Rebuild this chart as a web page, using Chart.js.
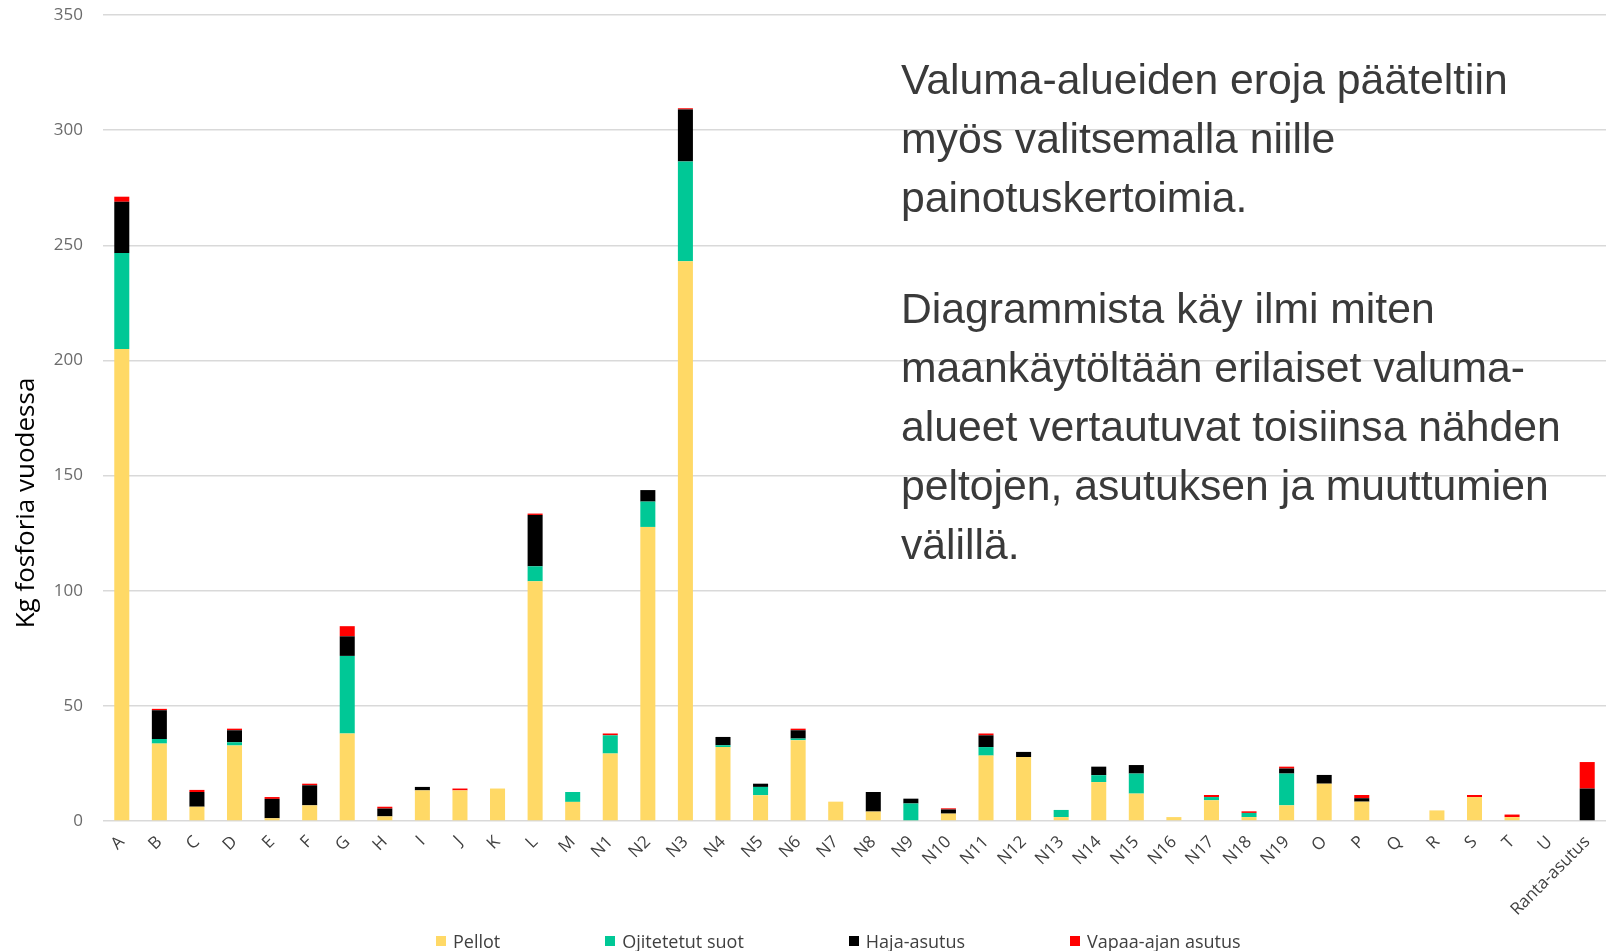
<!DOCTYPE html>
<html lang="fi">
<head>
<meta charset="utf-8">
<title>Kg fosforia vuodessa</title>
<script src="https://cdn.jsdelivr.net/npm/chart.js@4.4.1/dist/chart.umd.min.js"></script>
<style>
    body { margin: 0; background: #fff; }
    .wrap { position: relative; width: 1610px; height: 951px; overflow: hidden; }
    .note {
        position: absolute; left: 901px; top: 50px; width: 705px;
        font-family: "Liberation Sans", Arial, sans-serif; font-size: 42.7px;
        line-height: 59px; color: #3a3a3a;
    }
    .note p { margin: 0; }
    .note p + p { margin-top: 52px; }
    .legend {
        position: absolute; left: 436px; top: 931px; height: 20px;
        display: flex; align-items: center;
        font-family: "Open Sans", sans-serif; font-size: 18px; color: #404040;
    }
    .legend span.item { display: flex; align-items: center; margin-right: 105px; }
    .legend span.box { width: 10px; height: 10px; margin-right: 7px; }
</style>
</head>
<body>
<div class="wrap">
    <canvas id="chart" width="1610" height="951"></canvas>
    <div class="note">
        <p>Valuma-alueiden eroja pääteltiin<br>myös valitsemalla niille<br>painotuskertoimia.</p>
        <p>Diagrammista käy ilmi miten<br>maankäytöltään erilaiset valuma-<br>alueet vertautuvat toisiinsa nähden<br>peltojen, asutuksen ja muuttumien<br>välillä.</p>
    </div>
    <div class="legend" id="legend"></div>
</div>
<script>
// Valuma-alueet
const categories = ['A', 'B', 'C', 'D', 'E', 'F', 'G', 'H', 'I', 'J', 'K', 'L', 'M',
    'N1', 'N2', 'N3', 'N4', 'N5', 'N6', 'N7', 'N8', 'N9', 'N10', 'N11', 'N12', 'N13',
    'N14', 'N15', 'N16', 'N17', 'N18', 'N19', 'O', 'P', 'Q', 'R', 'S', 'T', 'U', 'Ranta-asutus'];

// kg fosforia vuodessa, luettu kuvasta
const pellot = [205, 33.6, 6.2, 32.8, 1.2, 6.8, 38, 2.0, 13.3, 13.3, 14.1, 104.1, 8.3,
    29.3, 127.7, 243.1, 32.1, 11.2, 35.1, 8.4, 4.1, 0.3, 3.2, 28.4, 27.8, 1.7,
    16.9, 11.9, 1.7, 9.0, 1.7, 6.8, 16.2, 8.4, 0, 4.6, 10.4, 1.7, 0, 0];
const ojitetutSuot = [41.6, 2.0, 0, 1.4, 0, 0, 33.7, 0, 0, 0, 0, 6.5, 4.3,
    7.9, 11, 43.3, 0.8, 3.6, 0.7, 0, 0, 7.3, 0, 3.7, 0, 3.1,
    3.0, 8.7, 0, 1.4, 1.8, 13.8, 0, 0, 0, 0, 0, 0, 0, 0];
const hajaAsutus = [22.3, 12.5, 6.4, 5.2, 8.4, 8.7, 8.5, 3.4, 1.5, 0, 0, 22.3, 0,
    0, 5, 22.6, 3.6, 1.4, 3.6, 0, 8.5, 2.1, 1.8, 5.1, 2.2, 0,
    3.7, 3.7, 0, 0, 0, 2.2, 3.8, 1.5, 0, 0, 0, 0, 0, 14.1];
const vapaaAjanAsutus = [2.2, 0.6, 0.9, 0.7, 0.8, 0.7, 4.4, 0.8, 0, 0.8, 0, 0.6, 0,
    0.8, 0, 0.5, 0, 0, 0.7, 0, 0, 0, 0.5, 0.8, 0, 0,
    0, 0, 0, 0.9, 0.7, 0.8, 0, 1.4, 0, 0, 0.9, 1.1, 0, 11.5];

const yTicks = [0, 50, 100, 150, 200, 250, 300, 350];
const yTitle = 'Kg fosforia vuodessa';

/**
 * Draws the rotated y axis title where the original has it.
 */
const yTitlePlugin = {
    id: 'yTitle',
    afterDraw(chart) {
        const ctx = chart.ctx;
        ctx.save();
        ctx.translate(27, 503);
        ctx.rotate(-Math.PI / 2);
        ctx.font = '26px "Open Sans"';
        ctx.fillStyle = '#000';
        ctx.textAlign = 'center';
        ctx.textBaseline = 'middle';
        ctx.fillText(yTitle, 0, 0);
        ctx.restore();
    }
};

const chart = new Chart(document.getElementById('chart'), {
    type: 'bar',
    data: {
        labels: categories,
        datasets: [
            { label: 'Pellot', data: pellot, backgroundColor: '#FFD966' },
            { label: 'Ojitetetut suot', data: ojitetutSuot, backgroundColor: '#00C896' },
            { label: 'Haja-asutus', data: hajaAsutus, backgroundColor: '#000000' },
            { label: 'Vapaa-ajan asutus', data: vapaaAjanAsutus, backgroundColor: '#FF0000' }
        ]
    },
    options: {
        responsive: false,
        animation: false,
        datasets: { bar: { barPercentage: 0.4, categoryPercentage: 1, borderWidth: 0 } },
        layout: { padding: { top: 15, right: 4, bottom: 30, left: 0 } },
        plugins: {
            legend: { display: false },
            tooltip: { enabled: false }
        },
        scales: {
            x: {
                stacked: true,
                grid: { display: false },
                border: { display: false },
                ticks: {
                    autoSkip: false,
                    minRotation: 45,
                    maxRotation: 45,
                    color: '#404040',
                    font: { family: 'Open Sans', size: 17 }
                },
                afterFit(scale) { scale.height = 100; }
            },
            y: {
                stacked: true,
                min: 0,
                max: 350,
                afterBuildTicks(scale) { scale.ticks = yTicks.map(v => ({ value: v })); },
                grid: { color: '#d9d9d9', lineWidth: 1.5, drawTicks: false },
                border: { display: false },
                ticks: {
                    padding: 20,
                    color: '#6b6b6b',
                    font: { family: 'Open Sans', size: 17 }
                },
                afterFit(scale) {
                    scale.width = 103;
                    scale.paddingTop = 0;
                    scale.paddingBottom = 0;
                }
            }
        }
    },
    plugins: [yTitlePlugin]
});

// HTML legend built from the datasets
const legendEl = document.getElementById('legend');
chart.data.datasets.forEach(ds => {
    const item = document.createElement('span');
    item.className = 'item';
    const box = document.createElement('span');
    box.className = 'box';
    box.style.background = ds.backgroundColor;
    item.appendChild(box);
    item.appendChild(document.createTextNode(ds.label));
    legendEl.appendChild(item);
});
</script>
</body>
</html>
